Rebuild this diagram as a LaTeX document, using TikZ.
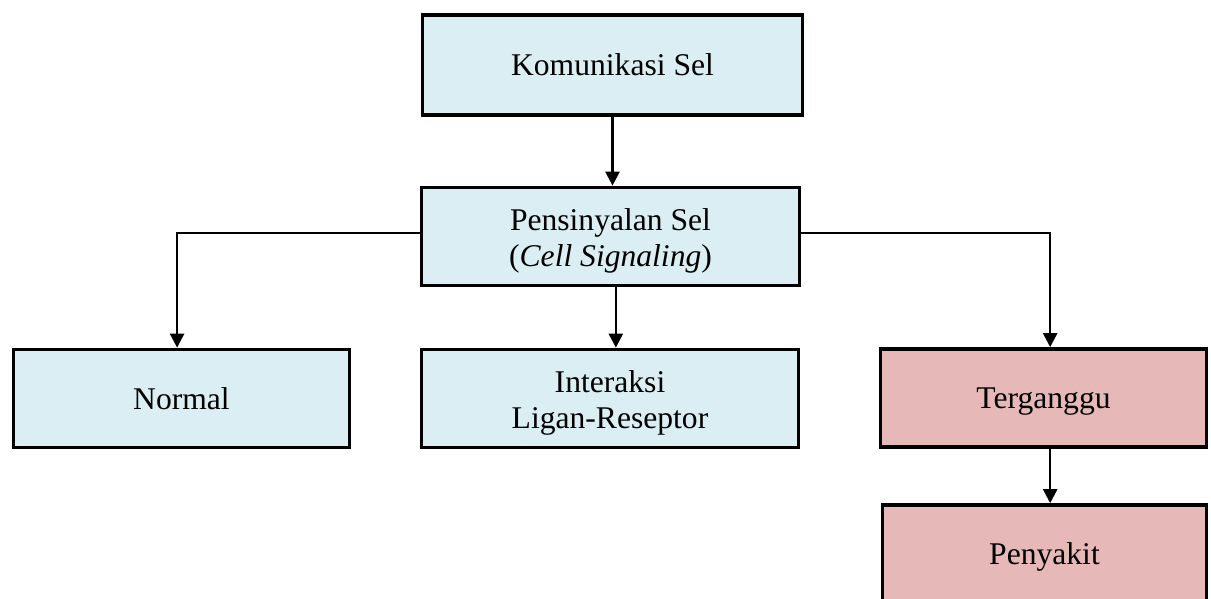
\documentclass[tikz,border=0pt]{standalone}
\usepackage{fontspec}
\setmainfont{Liberation Serif}
\usetikzlibrary{arrows.meta}
\definecolor{boxblue}{HTML}{DAEEF3}
\definecolor{boxpink}{HTML}{E6B8B7}
\newcommand{\toppad}{\rule{0pt}{23pt}}
\tikzset{
  box/.style={draw=black, line width=2.8pt, fill=boxblue, rectangle, align=center,
    inner sep=0pt, font=\fontsize{23.7}{27}\selectfont},
  oneline/.style={text height=16pt, text depth=0pt},
  pinkbox/.style={box, fill=boxpink},
  arr/.style={line width=1.9pt, -{Triangle[length=10.5pt,width=10.5pt]}}
}
\begin{document}
\begin{tikzpicture}[x=0.75pt,y=-0.75pt]
\useasboundingbox (0,0) rectangle (1211,599);
\clip (0,0) rectangle (1211,599);
\node[box, oneline, minimum width=380*0.75pt, minimum height=100*0.75pt] (kom) at (612.5,65) {Komunikasi Sel};
\node[box, minimum width=378*0.75pt, minimum height=98*0.75pt] (pens) at (610.5,236.5) {\toppad Pensinyalan Sel\\(\textit{Cell Signaling})};
\node[box, oneline, minimum width=336*0.75pt, minimum height=98*0.75pt] (norm) at (181.5,398.5) {Normal};
\node[box, minimum width=377*0.75pt, minimum height=98*0.75pt] (inter) at (610,398.5) {\toppad Interaksi\\Ligan-Reseptor};
\node[pinkbox, oneline, minimum width=326*0.75pt, minimum height=98*0.75pt] (terg) at (1043.5,398) {Terganggu};
\node[pinkbox, oneline, minimum width=324*0.75pt, minimum height=98*0.75pt] (peny) at (1044.5,554) {Penyakit};
\draw[arr] (kom.south) -- (kom.south |- pens.north);
\draw[arr] ([yshift=2.5pt]pens.west) -| ([xshift=-3.3pt]norm.north);
\draw[arr] ([yshift=2.5pt]pens.east) -| ([xshift=5pt]terg.north);
\draw[arr] ([xshift=4pt]pens.south) -- ([xshift=4pt]pens.south |- inter.north);
\draw[arr] ([xshift=5pt]terg.south) -- ([xshift=5pt]terg.south |- peny.north);
\end{tikzpicture}
\end{document}
